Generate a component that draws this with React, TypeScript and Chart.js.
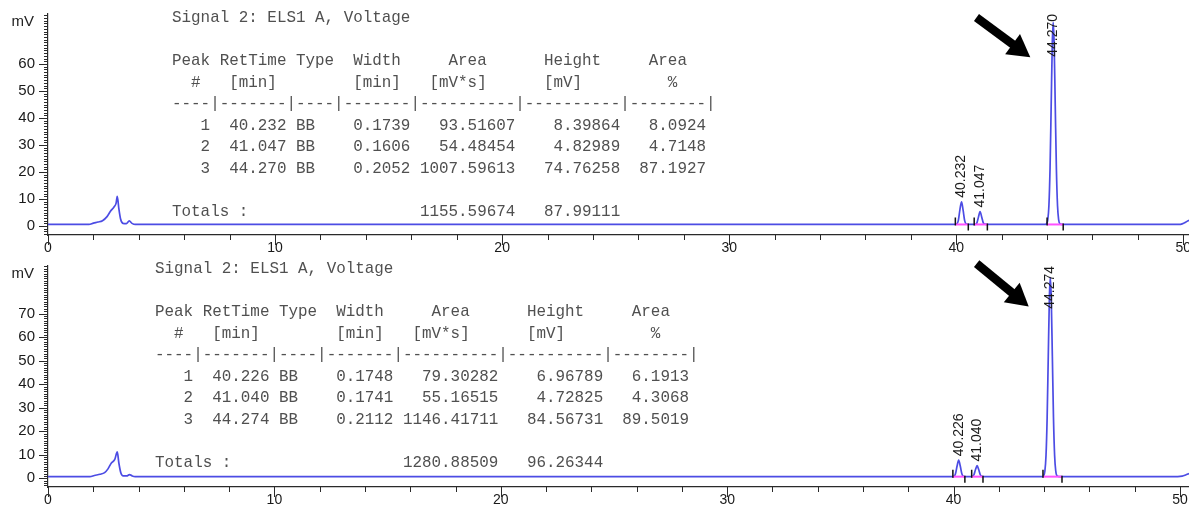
import React, { useEffect, useRef } from "react";
import { Chart, registerables } from "chart.js";

Chart.register(...registerables);

// ---------- axis ticks ----------
const xTickValues = [0, 10, 20, 30, 40, 50];
const topYTickValues = [0, 10, 20, 30, 40, 50, 60];
const bottomYTickValues = [0, 10, 20, 30, 40, 50, 60, 70];

// ---------- top chromatogram trace ----------
const topTime = [
  0, 1.8, 2.0, 2.2, 2.4, 2.6, 2.75, 2.9, 3.0, 3.05, 3.12, 3.2, 3.3, 3.45, 3.58, 3.7, 3.85,
  10, 20, 30, 39.9,
  40.02, 40.09, 40.16, 40.232, 40.3, 40.37, 40.44, 40.55,
  40.85, 40.91, 40.98, 41.047, 41.12, 41.19, 41.26, 41.4,
  43.95, 43.97, 44.03, 44.08, 44.13, 44.18, 44.23, 44.27, 44.31, 44.36, 44.41, 44.46, 44.51, 44.57, 44.7,
  49.8, 49.95, 50.1, 50.25,
];
const topSignal = [
  0.6, 0.6, 1.1, 1.5, 2.0, 3.5, 5.5, 7.0, 8.5, 11.0, 6.5, 2.5, 1.0, 0.9, 1.9, 1.0, 0.6,
  0.6, 0.6, 0.6, 0.6,
  0.75, 2.0, 6.0, 9.0, 6.0, 2.0, 0.75, 0.6,
  0.6, 1.2, 3.4, 5.4, 3.4, 1.2, 0.7, 0.6,
  0.6, 0.8, 2.3, 7.5, 21.1, 44.4, 67.9, 75.4, 67.9, 44.4, 21.1, 7.5, 2.3, 0.8, 0.6,
  0.6, 0.8, 1.4, 2.2,
];
const topBaseline = 0.6;

// ---------- bottom chromatogram trace ----------
const bottomTime = [
  0, 1.85, 2.05, 2.3, 2.5, 2.65, 2.8, 2.95, 3.06, 3.13, 3.22, 3.32, 3.48, 3.6, 3.72, 3.85,
  10, 20, 30, 39.9,
  40.016, 40.086, 40.156, 40.226, 40.296, 40.366, 40.436, 40.55,
  40.8, 40.83, 40.9, 40.97, 41.04, 41.11, 41.18, 41.25, 41.35,
  43.95, 43.974, 44.034, 44.084, 44.134, 44.184, 44.234, 44.274, 44.314, 44.364, 44.414, 44.464, 44.514, 44.574, 44.7,
  49.9, 50.1, 50.25, 50.4,
];
const bottomSignal = [
  0.7, 0.7, 1.2, 1.7, 2.4, 4.0, 6.5, 8.0, 11.2, 6.5, 2.2, 1.0, 1.0, 1.6, 1.0, 0.7,
  0.7, 0.7, 0.7, 0.7,
  0.83, 1.9, 5.2, 7.7, 5.2, 1.9, 0.83, 0.7,
  0.7, 0.8, 1.5, 3.7, 5.4, 3.7, 1.5, 0.8, 0.7,
  0.7, 1.0, 3.1, 9.7, 25.7, 51.9, 77.2, 85.3, 77.2, 51.9, 25.7, 9.7, 3.1, 1.0, 0.7,
  0.7, 0.9, 1.4, 2.0,
];
const bottomBaseline = 0.7;

// ---------- top peak table ----------
const topPeakNo = [1, 2, 3];
const topRetTime = [40.232, 41.047, 44.27];
const topType = ["BB", "BB", "BB"];
const topWidth = [0.1739, 0.1606, 0.2052];
const topArea = [93.51607, 54.48454, 1007.59613];
const topHeight = [8.39864, 4.82989, 74.76258];
const topAreaPct = [8.0924, 4.7148, 87.1927];
const topTotals = [1155.59674, 87.99111];
const topPeakStart = [39.96, 40.79, 44.0];
const topPeakEnd = [40.53, 41.37, 44.71];
const topArrowFrom = [40.89, 77.2];
const topArrowTo = [43.26, 62.5];

// ---------- bottom peak table ----------
const bottomPeakNo = [1, 2, 3];
const bottomRetTime = [40.226, 41.04, 44.274];
const bottomType = ["BB", "BB", "BB"];
const bottomWidth = [0.1748, 0.1741, 0.2112];
const bottomArea = [79.30282, 55.16515, 1146.41711];
const bottomHeight = [6.96789, 4.72825, 84.56731];
const bottomAreaPct = [6.1913, 4.3068, 89.5019];
const bottomTotals = [1280.88509, 96.26344];
const bottomPeakStart = [39.97, 40.8, 43.95];
const bottomPeakEnd = [40.5, 41.3, 44.79];
const bottomArrowFrom = [41.02, 91.2];
const bottomArrowTo = [43.32, 73.0];

// ---------- report text ----------
const signalTitle = "Signal 2: ELS1 A, Voltage";
const headerLines = [
  "Peak RetTime Type  Width     Area      Height     Area",
  "  #   [min]        [min]   [mV*s]      [mV]         %",
  "----|-------|----|-------|----------|----------|--------|",
];
const totalsLabel = "Totals :";
const yUnit = "mV";

function buildTable(
  no: number[], rt: number[], type: string[], w: number[], a: number[], h: number[], p: number[], totals: number[]
): string[] {
  const rows = no.map((n, i) =>
    String(n).padStart(4) + " " +
    rt[i].toFixed(3).padStart(7) + " " +
    type[i].padEnd(4) + " " +
    w[i].toFixed(4).padStart(7) + " " +
    a[i].toFixed(5).padStart(10) + " " +
    h[i].toFixed(5).padStart(10) + " " +
    p[i].toFixed(4).padStart(8)
  );
  return [
    signalTitle,
    "",
    ...headerLines,
    ...rows,
    "",
    totalsLabel.padEnd(26) + totals[0].toFixed(5).padStart(10) + " " + totals[1].toFixed(5).padStart(10),
  ];
}

const SANS = '"Liberation Sans", Arial, sans-serif';
const MONO = '"Liberation Mono", "Courier New", monospace';
const TRACE = "rgb(76,76,228)";
const AXIS = "#2a2a2a";

type PanelProps = {
  top: number;
  height: number;
  padTop: number;
  xAxisHeight: number;
  xMax: number;
  yMin: number;
  yMax: number;
  yTicks: number[];
  time: number[];
  signal: number[];
  baseline: number;
  retTimes: number[];
  starts: number[];
  ends: number[];
  arrowFrom: number[];
  arrowTo: number[];
  tableLines: string[];
  tableLeft: number;
  tableTop: number;
};

function Panel(p: PanelProps) {
  const ref = useRef<HTMLCanvasElement>(null);

  useEffect(() => {
    const canvas = ref.current;
    if (!canvas) return;

    const apexes = p.retTimes.map((rt) => {
      let best = -Infinity;
      p.time.forEach((t, i) => {
        if (Math.abs(t - rt) < 0.06 && p.signal[i] > best) best = p.signal[i];
      });
      return best;
    });

    const overlay = {
      id: "chromOverlay",
      afterDraw(chart: any) {
        const ctx: CanvasRenderingContext2D = chart.ctx;
        const xs = chart.scales.x;
        const ys = chart.scales.y;
        const area = chart.chartArea;
        ctx.save();

        // axis tick marks
        ctx.strokeStyle = AXIS;
        ctx.lineWidth = 1;
        ctx.beginPath();
        for (let v = 0; v <= p.xMax + 1e-6; v += 2) {
          const px = Math.round(xs.getPixelForValue(v)) + 0.5;
          const len = v % 10 === 0 ? 10 : 5;
          ctx.moveTo(px, area.bottom);
          ctx.lineTo(px, area.bottom + len);
        }
        for (let v = Math.ceil(p.yMin); v <= p.yMax; v += 1) {
          const py = Math.round(ys.getPixelForValue(v)) + 0.5;
          const len = p.yTicks.includes(v) ? 9 : 4;
          ctx.moveTo(area.left, py);
          ctx.lineTo(area.left - len, py);
        }
        ctx.stroke();

        // unit label
        ctx.fillStyle = "#222";
        ctx.font = `15px ${SANS}`;
        ctx.textAlign = "right";
        ctx.textBaseline = "middle";
        ctx.fillText(yUnit, 34, area.top + 8);

        // peak start / end markers
        ctx.strokeStyle = "#111";
        ctx.lineWidth = 1.5;
        ctx.beginPath();
        const by = ys.getPixelForValue(p.baseline);
        p.starts.forEach((s) => {
          const px = xs.getPixelForValue(s);
          ctx.moveTo(px, by + 1);
          ctx.lineTo(px, by - 7);
        });
        p.ends.forEach((e) => {
          const px = xs.getPixelForValue(e);
          ctx.moveTo(px, by - 1);
          ctx.lineTo(px, by + 6);
        });
        ctx.stroke();

        // rotated retention-time labels
        ctx.font = `14px ${SANS}`;
        ctx.fillStyle = "#1a1a1a";
        ctx.textAlign = "left";
        ctx.textBaseline = "middle";
        p.retTimes.forEach((rt, i) => {
          const label = rt.toFixed(3);
          const w = ctx.measureText(label).width;
          const px = xs.getPixelForValue(rt);
          let yb = ys.getPixelForValue(apexes[i]) - 4;
          if (yb - w < area.top) yb = area.top + w;
          ctx.save();
          ctx.translate(px, yb);
          ctx.rotate(-Math.PI / 2);
          ctx.fillText(label, 0, 0);
          ctx.restore();
        });

        // arrow
        const x1 = xs.getPixelForValue(p.arrowFrom[0]);
        const y1 = ys.getPixelForValue(p.arrowFrom[1]);
        const x2 = xs.getPixelForValue(p.arrowTo[0]);
        const y2 = ys.getPixelForValue(p.arrowTo[1]);
        const ang = Math.atan2(y2 - y1, x2 - x1);
        const c = Math.cos(ang);
        const s = Math.sin(ang);
        const headLen = 22;
        const headW = 12.5;
        const bx = x2 - headLen * c;
        const byy = y2 - headLen * s;
        ctx.strokeStyle = "#000";
        ctx.fillStyle = "#000";
        ctx.lineWidth = 8.5;
        ctx.lineCap = "butt";
        ctx.beginPath();
        ctx.moveTo(x1, y1);
        ctx.lineTo(bx + c, byy + s);
        ctx.stroke();
        ctx.beginPath();
        ctx.moveTo(x2, y2);
        ctx.lineTo(bx + headW * s, byy - headW * c);
        ctx.lineTo(bx - headW * s, byy + headW * c);
        ctx.closePath();
        ctx.fill();

        ctx.restore();
      },
    };

    const pinkSets = p.starts.map((s, i) => ({
      data: [
        { x: s, y: p.baseline },
        { x: p.ends[i], y: p.baseline },
      ],
      borderColor: "rgb(255,80,255)",
      borderWidth: 2,
      pointRadius: 0,
      order: 0,
    }));

    const chart = new Chart(canvas, {
      type: "line",
      data: {
        datasets: [
          ...pinkSets,
          {
            data: p.time.map((t, i) => ({ x: t, y: p.signal[i] })),
            borderColor: TRACE,
            borderWidth: 1.7,
            pointRadius: 0,
            cubicInterpolationMode: "monotone",
            order: 1,
          },
        ],
      } as any,
      options: {
        animation: false,
        responsive: false,
        devicePixelRatio: 1,
        events: [],
        layout: { padding: { top: p.padTop, left: 0, right: 0, bottom: 0 } },
        plugins: {
          legend: { display: false },
          tooltip: { enabled: false },
        },
        scales: {
          x: {
            type: "linear",
            min: 0,
            max: p.xMax,
            grid: { display: false, drawTicks: false },
            border: { display: true, color: AXIS, width: 1.2 },
            ticks: {
              padding: 5,
              color: "#1a1a1a",
              font: { family: SANS, size: 14 },
              maxRotation: 0,
              autoSkip: false,
              callback: (v: any) => String(v),
            },
            afterBuildTicks: (s: any) => {
              s.ticks = xTickValues.map((v) => ({ value: v }));
            },
            afterFit: (s: any) => {
              s.height = p.xAxisHeight;
              s.paddingLeft = 0;
              s.paddingRight = 0;
            },
          },
          y: {
            type: "linear",
            min: p.yMin,
            max: p.yMax,
            grid: { display: false, drawTicks: false },
            border: { display: true, color: AXIS, width: 1.2 },
            ticks: {
              padding: 13,
              color: "#1a1a1a",
              font: { family: SANS, size: 15 },
              autoSkip: false,
              callback: (v: any) => String(v),
            },
            afterBuildTicks: (s: any) => {
              s.ticks = p.yTicks.map((v) => ({ value: v }));
            },
            afterFit: (s: any) => {
              s.width = 48;
              s.paddingTop = 0;
              s.paddingBottom = 0;
            },
          },
        },
      } as any,
      plugins: [overlay],
    });

    return () => chart.destroy();
  }, []);

  return (
    <>
      <canvas
        ref={ref}
        width={1189}
        height={p.height}
        style={{ position: "absolute", left: 0, top: p.top, width: 1189, height: p.height, display: "block" }}
      />
      <pre
        style={{
          position: "absolute",
          left: p.tableLeft,
          top: p.tableTop,
          margin: 0,
          fontFamily: MONO,
          fontSize: "15.9px",
          lineHeight: "21.5px",
          color: "#505050",
          whiteSpace: "pre",
          pointerEvents: "none",
        }}
      >
        {p.tableLines.join("\n")}
      </pre>
    </>
  );
}

export default function App() {
  const topTable = buildTable(topPeakNo, topRetTime, topType, topWidth, topArea, topHeight, topAreaPct, topTotals);
  const bottomTable = buildTable(
    bottomPeakNo, bottomRetTime, bottomType, bottomWidth, bottomArea, bottomHeight, bottomAreaPct, bottomTotals
  );
  return (
    <div
      style={{
        position: "fixed",
        left: 0,
        top: 0,
        width: 1189,
        height: 508,
        background: "#fff",
        overflow: "hidden",
      }}
    >
      <Panel
        top={0}
        height={262}
        padTop={14}
        xAxisHeight={27}
        xMax={50.25}
        yMin={-3.3}
        yMax={78.5}
        yTicks={topYTickValues}
        time={topTime}
        signal={topSignal}
        baseline={topBaseline}
        retTimes={topRetTime}
        starts={topPeakStart}
        ends={topPeakEnd}
        arrowFrom={topArrowFrom}
        arrowTo={topArrowTo}
        tableLines={topTable}
        tableLeft={172}
        tableTop={8}
      />
      <Panel
        top={254}
        height={254}
        padTop={12}
        xAxisHeight={21}
        xMax={50.4}
        yMin={-3.7}
        yMax={90.2}
        yTicks={bottomYTickValues}
        time={bottomTime}
        signal={bottomSignal}
        baseline={bottomBaseline}
        retTimes={bottomRetTime}
        starts={bottomPeakStart}
        ends={bottomPeakEnd}
        arrowFrom={bottomArrowFrom}
        arrowTo={bottomArrowTo}
        tableLines={bottomTable}
        tableLeft={155}
        tableTop={259}
      />
    </div>
  );
}
